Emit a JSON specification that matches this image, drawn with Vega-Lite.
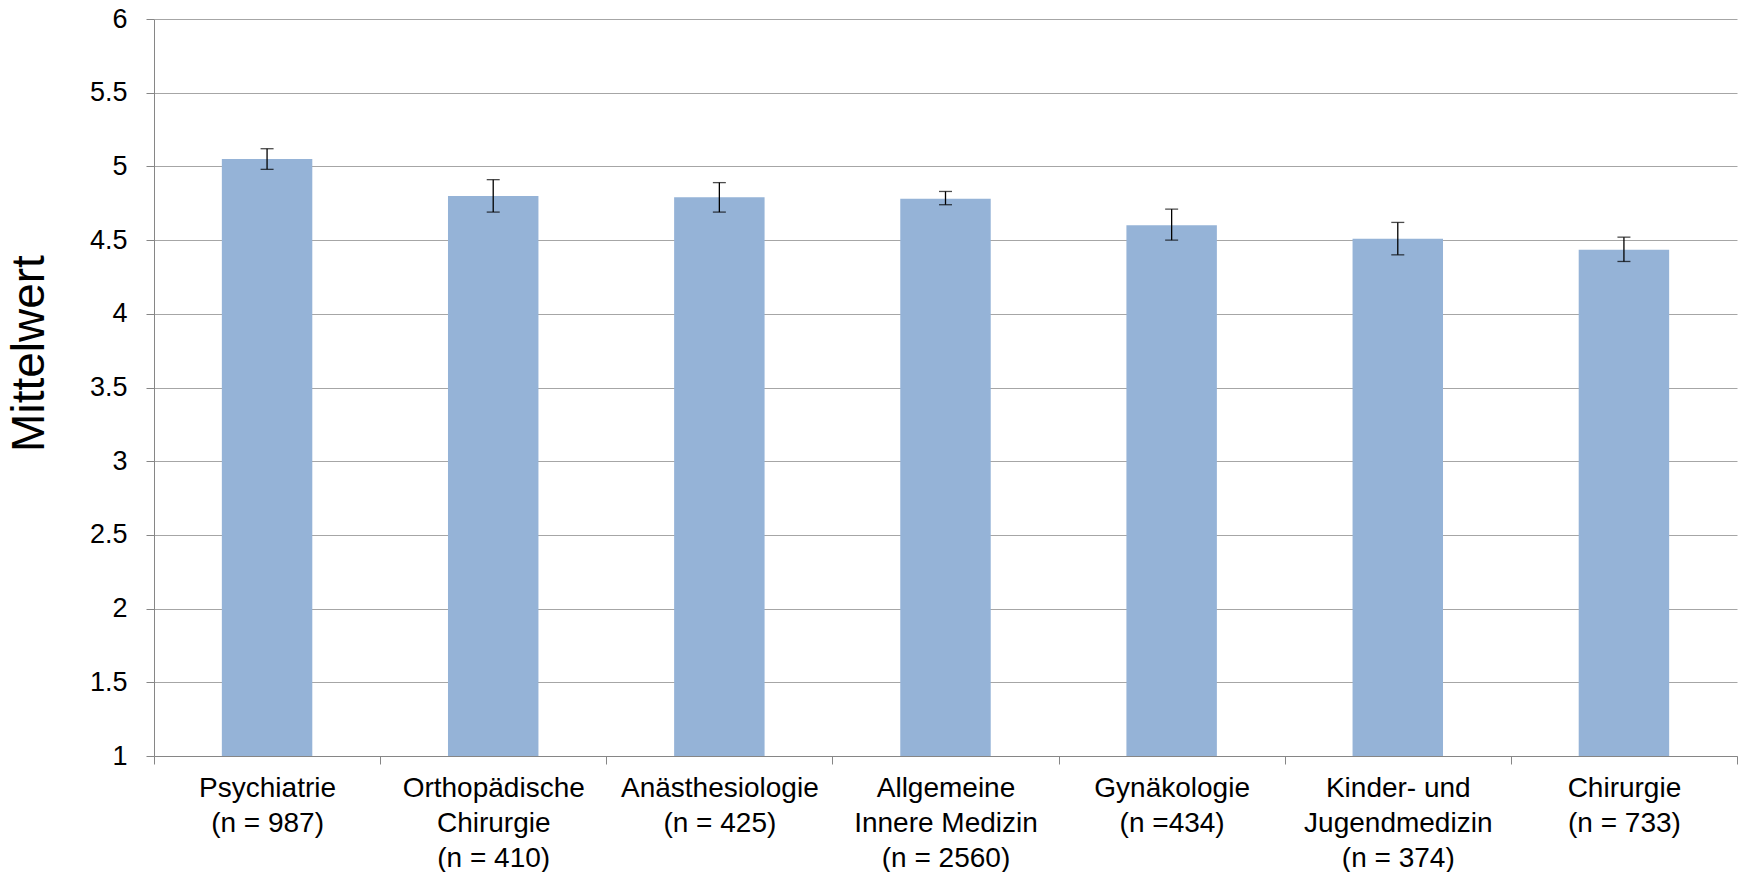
{
  "$schema": "https://vega.github.io/schema/vega-lite/v6.json",
  "width": 1583,
  "height": 737,
  "autosize": "none",
  "padding": {"left": 154, "top": 19, "right": 5, "bottom": 116},
  "background": "white",
  "config": {"view": {"stroke": null}},
  "data": {
    "values": [
      {"cat": "Psychiatrie|(n = 987)", "mean": 5.05, "lo": 4.98, "hi": 5.12},
      {"cat": "Orthopädische|Chirurgie|(n = 410)", "mean": 4.80, "lo": 4.69, "hi": 4.91},
      {"cat": "Anästhesiologie|(n = 425)", "mean": 4.79, "lo": 4.69, "hi": 4.89},
      {"cat": "Allgemeine|Innere Medizin|(n = 2560)", "mean": 4.78, "lo": 4.74, "hi": 4.83},
      {"cat": "Gynäkologie|(n =434)", "mean": 4.60, "lo": 4.50, "hi": 4.71},
      {"cat": "Kinder- und|Jugendmedizin|(n = 374)", "mean": 4.51, "lo": 4.40, "hi": 4.62},
      {"cat": "Chirurgie|(n = 733)", "mean": 4.435, "lo": 4.355, "hi": 4.52}
    ]
  },
  "encoding": {
    "x": {
      "field": "cat",
      "type": "nominal",
      "sort": null,
      "scale": {"paddingInner": 0, "paddingOuter": 0},
      "axis": {
        "title": null,
        "labelAngle": 0,
        "labelExpr": "split(datum.label, '|')",
        "labelFont": "Liberation Sans",
        "labelFontSize": 28,
        "labelLineHeight": 35,
        "labelColor": "black",
        "labelPadding": 10,
        "labelLimit": 400,
        "tickBand": "extent",
        "tickSize": 8,
        "tickColor": "#868686",
        "domainColor": "#868686",
        "grid": false
      }
    }
  },
  "layer": [
    {
      "mark": {"type": "bar", "color": "#95B3D7", "width": {"band": 0.4}},
      "encoding": {
        "y": {
          "field": "mean",
          "type": "quantitative",
          "title": "Mittelwert",
          "scale": {"domain": [1, 6], "zero": false, "nice": false},
          "axis": {
            "values": [1, 1.5, 2, 2.5, 3, 3.5, 4, 4.5, 5, 5.5, 6],
            "format": "~g",
            "grid": true,
            "gridColor": "#A6A6A6",
            "domainColor": "#868686",
            "tickColor": "#868686",
            "tickSize": 8,
            "labelFont": "Liberation Sans",
            "labelFontSize": 27,
            "labelColor": "black",
            "labelPadding": 19,
            "titleFont": "Liberation Sans",
            "titleFontSize": 46,
            "titleFontWeight": "normal",
            "titleColor": "black",
            "titleAngle": -90,
            "titleAlign": "center",
            "titleBaseline": "alphabetic",
            "titleX": -111,
            "titleY": 334
          }
        },
        "y2": {"datum": 1}
      }
    },
    {
      "mark": {"type": "rule", "color": "black", "strokeWidth": 1.3},
      "encoding": {
        "y": {"field": "lo", "type": "quantitative", "title": "Mittelwert"},
        "y2": {"field": "hi"}
      }
    },
    {
      "mark": {"type": "tick", "color": "black", "thickness": 1.3, "size": 13, "orient": "horizontal"},
      "encoding": {
        "y": {"field": "lo", "type": "quantitative", "title": "Mittelwert"}
      }
    },
    {
      "mark": {"type": "tick", "color": "black", "thickness": 1.3, "size": 13, "orient": "horizontal"},
      "encoding": {
        "y": {"field": "hi", "type": "quantitative", "title": "Mittelwert"}
      }
    }
  ]
}
